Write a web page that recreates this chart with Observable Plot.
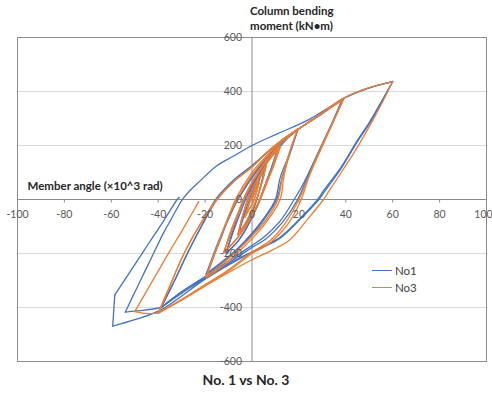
<!DOCTYPE html>
<html>
<head>
<meta charset="utf-8">
<script src="https://cdn.jsdelivr.net/npm/d3@7"></script>
<script src="https://cdn.jsdelivr.net/npm/@observablehq/plot@0.6"></script>
<style>
  body { margin: 0; background: #fff; font-family: Lato, "Open Sans", sans-serif; }
  #wrap { position: relative; width: 492px; height: 393px; overflow: hidden; }
  #title { position: absolute; left: 0; top: 371px; width: 492px; text-align: center;
           font: bold 14px Lato, "Open Sans", sans-serif; color: #262626; }
  .leg { position: absolute; left: 372px; font: 11.5px Lato, sans-serif; color: #404040; display: flex; align-items: center; }
  .leg span.sw { display: inline-block; width: 20px; height: 0; border-top: 1.5px solid; margin-right: 3px; }
</style>
</head>
<body>
<div id="wrap"></div>
<script>
// ---- data (member angle ×10^3 rad, column bending moment kN·m) ----
const no1 = [
  [0,0],[2,45],[4,90],[5.5,115],
  [4,60],[2,0],[0,-50],[-3,-95],[-5.5,-120],
  [-4,-65],[-2,-5],[0,45],[3,95],[5.5,115],
  [4,60],[2,0],[0,-50],[-3,-95],[-5.5,-120],
  [-3,-50],[0,25],[3,85],[6,135],[9,170],[11,188],
  [8,110],[5,40],[2,-30],[-2,-100],[-6,-155],[-11,-198],
  [-8,-120],[-5,-50],[-2,15],[2,80],[6,140],[11,188],
  [8,110],[5,40],[2,-30],[-2,-100],[-6,-155],[-11,-198],
  [-8,-110],[-5,-35],[-1,40],[4,110],[10,175],[15,225],[19.5,258],
  [16,170],[12,80],[10,0],[5,-70],[0,-125],[-6,-180],[-12,-225],[-19.5,-275],
  [-14,-160],[-10,-70],[-6,0],[0,80],[6,150],[12,205],[19.5,258],
  [16,165],[12.5,70],[10.5,0],[5,-75],[0,-130],[-6,-185],[-12,-230],[-19.5,-278],
  [-15,-170],[-10,-70],[-6,0],[0,85],[6,150],[12,210],[20,262],[30,318],[38.5,372],
  [33,260],[27,150],[22,60],[18,0],[12,-80],[5,-140],[0,-170],[-10,-228],[-20,-285],[-30,-342],[-38.6,-399],
  [-33,-300],[-27,-190],[-21,-90],[-15,0],[-8,70],[0,125],[12,215],[20,262],[30,320],[39,374],
  [33,262],[27,150],[23,70],[19.5,0],[13,-85],[6,-145],[0,-178],[-10,-235],[-20,-292],[-30,-347],[-39,-402],
  [-33,-300],[-27,-190],[-21,-90],[-15.5,0],[-8,70],[0,125],[12,215],[20,262],[30,320],[39,375],[49,411],[60,437],
  [55,360],[50,285],[45,220],[38,120],[30.5,33],[28,0],[20,-75],[12,-140],[4,-178],[-5,-215],[-20,-290],[-30,-342],[-38.6,-400],[-46,-410],[-54,-417],
  [-52,-380],[-47,-290],[-42,-200],[-37.5,-120],[-34.8,-78],[-29,8],[-22,70],[-15,125],[-8,160],[0,200],[11,244],[24,295],[34.8,352],[39,374],[49,411],[60,437],
  [55,355],[50,280],[45,215],[38,115],[31,30],[28.5,0],[20,-78],[12,-143],[4,-180],[-5,-218],[-20,-295],[-39,-410],[-50,-445],[-59.4,-469],
  [-58.5,-353],[-50,-241],[-44,-162],[-37.6,-78],[-31.9,0],[-31,8]
];
const no3 = [
  [0,0],[1.5,35],[3,62],[2,30],[0.5,-10],[-1.5,-40],[-3,-65],[-2,-35],[-0.5,5],[1.5,40],[3,62],[2,30],[0.5,-10],[-1.5,-40],[-3,-65],
  [-1.5,-25],[0.5,25],[3,75],[6,125],[4.5,70],[2.5,15],[0,-40],[-3,-90],[-6,-130],
  [-4.5,-75],[-2.5,-20],[0,35],[3,85],[6,125],[4.5,70],[2.5,15],[0,-40],[-3,-90],[-6,-130],
  [-4,-60],[-1.5,10],[2,70],[6,130],[9,165],[12,194],
  [9,120],[6,55],[3,-10],[-1,-75],[-6,-140],[-12,-197],
  [-9,-120],[-6,-55],[-3,10],[1,75],[6,140],[12,194],
  [9,120],[6,55],[3,-10],[-1,-75],[-6,-140],[-12,-197],
  [-9,-115],[-6,-50],[-3,15],[1,80],[6,145],[11,190],
  [8.5,115],[5.5,50],[2.5,-15],[-1.5,-80],[-6.5,-145],[-12,-195],
  [-8,-100],[-4.5,-20],[0,60],[5,130],[10,185],[15,228],[19.5,260],
  [16,175],[13,85],[11,0],[6,-75],[0,-135],[-7,-195],[-13,-240],[-19.5,-285],
  [-15,-175],[-11,-85],[-7,-10],[0,90],[6,155],[12,212],[19.5,262],
  [16,172],[13.5,80],[12,0],[6,-85],[0,-145],[-7,-205],[-13,-250],[-19.5,-290],
  [-15,-180],[-11,-85],[-7,0],[0,100],[6,160],[12,215],[20,262],[30,320],[39,370],
  [33,255],[27,140],[23,60],[20,0],[14,-90],[8,-150],[0,-195],[-10,-260],[-20,-315],[-30,-370],[-40,-421],
  [-35,-320],[-29,-200],[-22,-90],[-15,0],[-8,65],[0,120],[6,172],[12,215],[20,262],[30,320],[39,372],
  [33,258],[27,145],[23.5,65],[21,0],[15,-95],[8,-158],[0,-200],[-10,-265],[-20,-320],[-30,-372],[-40,-421],
  [-35,-320],[-29,-200],[-22,-90],[-15,0],[-8,65],[0,120],[6,172],[12,215],[20,262],[30,322],[39,375],[49,412],[60,437],
  [55,350],[50,270],[44,180],[38,100],[32,20],[30.5,0],[24,-70],[16,-150],[8,-190],[0,-223],[-10,-270],[-20,-320],[-30,-372],[-40,-421],[-45,-422],[-50,-415],
  [-45,-340],[-40,-265],[-35,-190],[-30,-118],[-25.5,-50],[-22.7,-8]
];
const xTicks = [-100,-80,-60,-40,-20,0,20,40,60,80,100];
const yTicks = [-600,-400,-200,0,200,400,600];
const yGrid = [-400,-200,200,400];
const seriesNames = ["No1","No3"];
const colors = ["#4472C4","#ED7D31"];
const xLabel = "Member angle (×10^3 rad)";
const yLabel = "Column bending\nmoment (kN\u2022m)";
const title = "No. 1 vs No. 3";

// split each path into branches at load reversals / sharp kinks so corners stay sharp
function branches(pts) {
  const rows = [];
  let seg = 0;
  const ang = (a, b) => Math.atan2((b[1] - a[1]) * 0.27, (b[0] - a[0]) * 2.345);
  for (let i = 0; i < pts.length; i++) {
    if (i >= 2) {
      const dx1 = pts[i-1][0] - pts[i-2][0], dx2 = pts[i][0] - pts[i-1][0];
      let d = Math.abs(ang(pts[i-1], pts[i]) - ang(pts[i-2], pts[i-1]));
      if (d > Math.PI) d = 2 * Math.PI - d;
      if (dx1 * dx2 < 0 || d > 0.45) {
        seg++;
        rows.push({x: pts[i-1][0], y: pts[i-1][1], seg});
      }
    }
    rows.push({x: pts[i][0], y: pts[i][1], seg});
  }
  return rows;
}
const lineOf = (pts, color) => Plot.line(branches(pts), {
  x: "x", y: "y", z: "seg", stroke: color, strokeWidth: 1.3, curve: "catmull-rom"
});
const xInner = xTicks.filter(d => d < 100);
const xLast = xTicks.filter(d => d >= 100);

const chart = Plot.plot({
  width: 492, height: 370,
  marginTop: 37, marginBottom: 9, marginLeft: 17, marginRight: 6,
  style: {fontFamily: "Lato, 'Open Sans', sans-serif", background: "white"},
  x: {domain: [-100, 100], axis: null},
  y: {domain: [-600, 600], axis: null},
  marks: [
    Plot.ruleY(yGrid, {stroke: "#d9d9d9", strokeWidth: 1}),
    Plot.ruleY([0], {stroke: "#8c8c8c", strokeWidth: 1}),
    Plot.ruleX([0], {stroke: "#8c8c8c", strokeWidth: 1}),
    Plot.ruleX(xTicks, {x: d => d, y1: 0, y2: -13, stroke: "#8c8c8c"}),
    Plot.frame({stroke: "#8c8c8c", strokeWidth: 1}),
    lineOf(no1, colors[0]),
    lineOf(no3, colors[1]),
    Plot.text(xInner, {x: d => d, y: 0, dy: 15, text: d => String(d), fontSize: 10.5, fill: "#595959"}),
    Plot.text(xLast, {x: d => d, y: 0, dy: 15, dx: -3, text: d => String(d), fontSize: 10.5, fill: "#595959"}),
    Plot.text(yTicks, {x: 0, y: d => d, dx: -10, text: d => String(d), textAnchor: "end", fontSize: 10.5, fill: "#595959"}),
    Plot.text([xLabel], {x: -100, y: 0, dx: 10, dy: -13, text: d => d, textAnchor: "start", fontWeight: "bold", fontSize: 11.5, fill: "#262626"}),
    Plot.text([yLabel], {x: 0, y: 600, dx: -2, dy: -33, text: d => d, textAnchor: "start", lineAnchor: "top", lineHeight: 1.3, fontWeight: "bold", fontSize: 11.5, fill: "#262626"})
  ]
});
const wrap = document.getElementById("wrap");
chart.style.position = "absolute"; chart.style.left = "0"; chart.style.top = "0";
wrap.appendChild(chart);
seriesNames.forEach((n, i) => {
  const d = document.createElement("div");
  d.className = "leg";
  d.style.top = (264 + i * 17) + "px";
  d.innerHTML = `<span class="sw" style="border-color:${colors[i]}"></span>${n}`;
  wrap.appendChild(d);
});
const t = document.createElement("div");
t.id = "title"; t.textContent = title;
wrap.appendChild(t);
</script>
</body>
</html>
